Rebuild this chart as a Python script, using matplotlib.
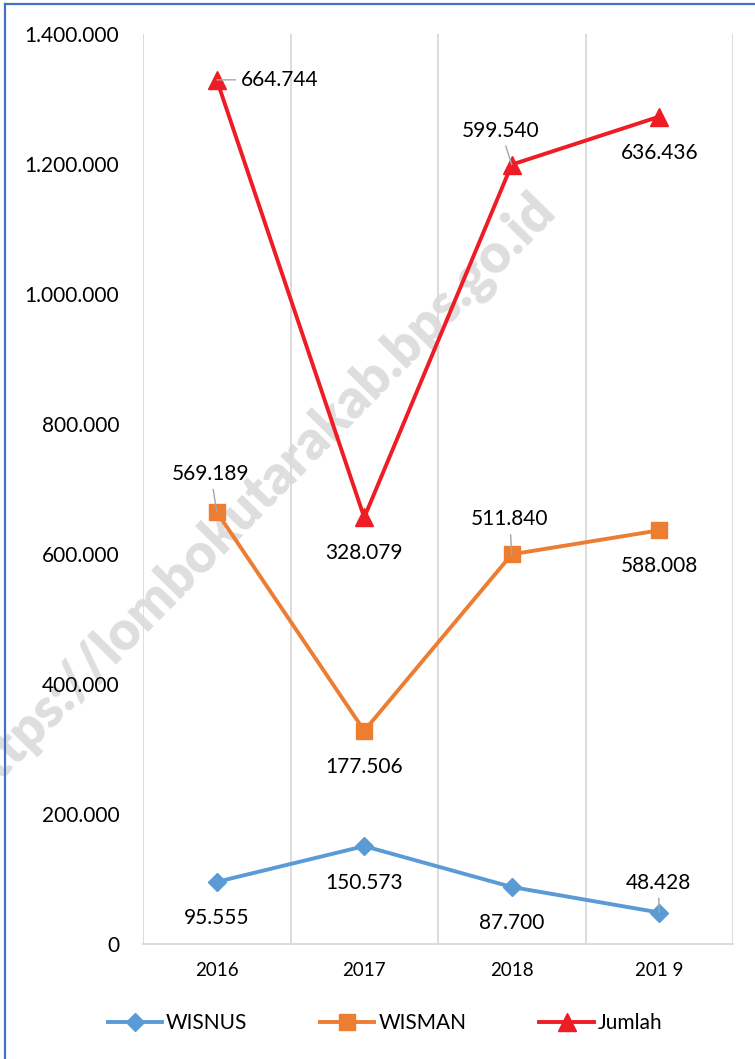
import matplotlib
matplotlib.use('Agg')
import matplotlib.pyplot as plt
import numpy as np
from matplotlib.lines import Line2D

# ---------------- data ----------------
years = ['2016', '2017', '2018', '201 9']
wisnus = [95555, 150573, 87700, 48428]
wisman = [569189, 177506, 511840, 588008]
jumlah = [664744, 328079, 599540, 636436]
series_names = ['WISNUS', 'WISMAN', 'Jumlah']
y_ticks = [0, 200000, 400000, 600000, 800000, 1000000, 1200000, 1400000]
watermark = 'https://lombokutarakab.bps.go.id'

# ---------------- styles ----------------
FONT = 'Lato'
colors = ['#5B9BD5', '#ED7D31', '#EE1C25']
markers = ['D', 's', '^']
msizes = [9.5, 11.5, 13.5]
# label offsets in pixels (dx, dy) and leader-line flags
label_offsets = [
    [(0, -36), (0, -37), (0, -36), (-1, 30)],
    [(-6, 38), (0, -36), (-2, 35), (0, -36)],
    [(63, 0), (0, -36), (-11, 34), (0, -36)],
]
leaders = [
    [False, False, False, True],
    [True, False, True, False],
    [True, False, True, False],
]

def fmt(v):
    return f"{v:,}".replace(',', '.')

W, H = 755, 1059
fig = plt.figure(figsize=(W / 100, H / 100), dpi=100)
fig.patch.set_facecolor('white')

ax = fig.add_axes([143 / W, 1 - 944 / H, (733 - 143) / W, (944 - 34) / H])
ax.set_facecolor('none')

x = np.arange(len(years))
values = [wisnus, wisman, jumlah]
stacked = np.cumsum(np.array(values, dtype=float), axis=0)

for k in range(3):
    ax.plot(x, stacked[k], color=colors[k], lw=2.8, marker=markers[k],
            ms=msizes[k], mfc=colors[k], mec=colors[k], mew=1,
            label=series_names[k], zorder=3 + k, solid_joinstyle='miter')
    for i in range(len(x)):
        dx, dy = label_offsets[k][i]
        kw = {}
        if leaders[k][i]:
            kw['arrowprops'] = dict(arrowstyle='-', color='#A6A6A6', lw=1.0,
                                    shrinkA=2, shrinkB=0)
        ax.annotate(fmt(values[k][i]), xy=(x[i], stacked[k][i]),
                    xytext=(dx, dy), textcoords='offset pixels',
                    ha='center', va='center', fontsize=15, family=FONT,
                    color='black', zorder=10, **kw)

ax.set_xlim(-0.5, len(years) - 0.5)
ax.set_ylim(0, 1400000)
ax.set_yticks(y_ticks)
ax.set_yticklabels([fmt(v) for v in y_ticks], fontsize=15, family=FONT)
ax.set_xticks(x)
ax.set_xticklabels(years, fontsize=13.5, family=FONT)
ax.set_xticks(np.arange(-0.5, len(years)), minor=True)
ax.grid(which='minor', axis='x', color='#D9D9D9', lw=1.3, zorder=0)
ax.grid(which='major', visible=False)
ax.tick_params(axis='both', which='both', length=0)
ax.tick_params(axis='y', pad=17)
ax.tick_params(axis='x', pad=13)
for s in ['top', 'right', 'left']:
    ax.spines[s].set_visible(False)
ax.spines['bottom'].set_color('#D9D9D9')
ax.spines['bottom'].set_linewidth(1.3)

leg = fig.legend(loc='center', bbox_to_anchor=(385 / W, 1 - 1023 / H),
                 ncol=3, frameon=False, prop={'family': FONT, 'size': 15},
                 handlelength=2.6, handletextpad=0.2, columnspacing=3.5)

# watermark (behind data)
fig.text(257 / W, 1 - 497 / H, watermark, rotation=45.5, fontsize=39,
         fontweight='heavy', family=FONT, color='#DEDEDE', ha='center',
         va='center', rotation_mode='anchor', zorder=-1)

# frame lines (blue)
fig.add_artist(Line2D([5 / W, 5 / W], [0, 1 - 4 / H], transform=fig.transFigure,
                      color='#4472C4', lw=1.6))
fig.add_artist(Line2D([5 / W, 1], [1 - 4 / H, 1 - 4 / H], transform=fig.transFigure,
                      color='#4472C4', lw=1.6))

fig.savefig('out.png', dpi=100)
